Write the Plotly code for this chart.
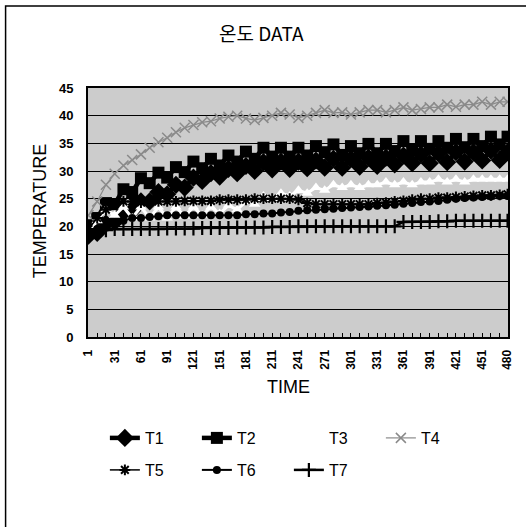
import plotly.graph_objects as go

time = [1, 11, 21, 31, 41, 51, 61, 71, 81, 91, 101, 111, 121, 131, 141, 151, 161, 171, 181, 191,
        201, 211, 221, 231, 241, 251, 261, 271, 281, 291, 301, 311, 321, 331, 341, 351, 361, 371,
        381, 391, 401, 411, 421, 431, 441, 451, 461, 471, 480]

t1 = [18.3, 18.8, 20.5, 20.8, 22.5, 22.8, 24.5, 24.5, 26.2, 25.8, 27.5, 27.0, 28.8, 28.2, 29.6,
      29.0, 30.4, 29.6, 30.9, 30.0, 31.6, 30.3, 31.7, 30.4, 31.7, 30.5, 31.9, 30.6, 32.2, 30.6,
      32.2, 30.8, 32.4, 30.9, 32.4, 31.2, 32.8, 31.4, 33.0, 31.4, 33.2, 31.6, 33.4, 31.7, 33.4,
      31.9, 33.7, 32.0, 33.4]
t2 = [20.2, 21.5, 24.2, 24.0, 26.7, 26.2, 28.7, 27.8, 29.7, 28.8, 30.7, 29.8, 31.7, 30.5, 32.2,
      31.0, 32.8, 31.7, 33.5, 32.2, 34.2, 32.6, 34.2, 32.6, 34.2, 32.8, 34.5, 33.4, 34.8, 32.9,
      34.5, 33.2, 34.9, 33.2, 34.9, 33.6, 35.4, 33.8, 35.4, 34.0, 35.4, 34.2, 35.8, 34.3, 35.8,
      34.5, 36.2, 34.8, 36.2]
t3 = [19.0, 21.0, 23.0, 22.0, 23.5, 21.5, 23.5, 21.5, 23.5, 21.5, 23.5, 21.8, 23.5, 22.0, 23.5,
      22.3, 23.8, 23.0, 24.5, 24.0, 25.5, 25.0, 26.0, 25.5, 26.5, 26.0, 27.0, 26.5, 27.5, 27.0,
      27.5, 27.0, 27.5, 27.5, 28.0, 27.5, 28.0, 27.5, 28.0, 28.0, 28.5, 28.0, 28.5, 28.0, 28.5,
      28.5, 28.5, 28.5, 28.5]
t4 = [22.0, 24.5, 27.5, 29.5, 31.0, 32.0, 33.0, 34.2, 35.2, 36.0, 37.0, 37.8, 38.3, 38.8, 39.0,
      39.5, 39.8, 40.0, 39.5, 39.2, 39.6, 40.0, 40.5, 40.2, 39.6, 40.0, 40.5, 41.0, 40.5, 40.6,
      40.2, 40.6, 41.0, 41.0, 40.6, 41.0, 41.5, 41.0, 41.2, 41.5, 41.5, 42.0, 41.6, 42.0, 42.0,
      42.5, 42.0, 42.5, 42.5]
t5 = [19.5, 21.5, 23.0, 24.0, 24.5, 24.5, 24.3, 24.5, 24.5, 24.5, 24.5, 24.6, 24.6, 24.6, 24.6,
      24.8, 24.8, 24.8, 24.8, 25.0, 25.0, 25.0, 25.0, 25.0, 24.8, 24.2, 24.0, 24.0, 24.0, 24.0,
      24.0, 24.0, 24.0, 24.2, 24.3, 24.5, 24.6, 24.8, 25.0, 25.0, 25.2, 25.2, 25.3, 25.4, 25.5,
      25.6, 25.6, 25.7, 25.8]
t6 = [19.0, 19.5, 20.0, 20.5, 21.0, 21.5, 21.5, 21.7, 21.8, 22.0, 22.0, 22.0, 22.0, 22.0, 22.0,
      22.0, 22.0, 22.0, 22.2, 22.2, 22.3, 22.3, 22.5, 22.6, 22.8, 22.9, 23.0, 23.1, 23.2, 23.3,
      23.4, 23.5, 23.6, 23.7, 23.8, 23.9, 24.1, 24.2, 24.4, 24.5, 24.6, 24.8, 25.0, 25.1, 25.2,
      25.3, 25.4, 25.5, 25.5]
t7 = [18.5, 19.0, 19.3, 19.5, 19.5, 19.5, 19.5, 19.5, 19.5, 19.6, 19.6, 19.6, 19.6, 19.7, 19.7,
      19.7, 19.7, 19.8, 19.8, 19.8, 19.8, 19.9, 19.9, 19.9, 20.0, 20.0, 20.0, 20.0, 20.0, 20.0,
      20.0, 20.0, 20.0, 20.0, 20.0, 20.0, 20.8, 20.8, 20.8, 20.8, 20.9, 20.9, 21.0, 21.0, 21.0,
      21.0, 21.0, 21.0, 21.0]

x_tick_vals = [1, 31, 61, 91, 121, 151, 181, 211, 241, 271, 301, 331, 361, 391, 421, 451, 480]
x_tick_text = [str(v) for v in x_tick_vals]
y_tick_vals = [0, 5, 10, 15, 20, 25, 30, 35, 40, 45]

FONT = "Liberation Sans, Arial, sans-serif"

series = [
    ("T1", t1, "black", 4.5, dict(symbol="diamond", size=14, color="black"), "legend"),
    ("T2", t2, "black", 4.5, dict(symbol="square", size=12, color="black"), "legend"),
    ("T3", t3, "white", 3, dict(symbol="triangle-up", size=10, color="white"), "legend"),
    ("T4", t4, "#8a8a8a", 1.2, dict(symbol="x-thin-open", size=10, color="#8a8a8a",
                                    line=dict(width=1.5, color="#8a8a8a")), "legend"),
    ("T5", t5, "black", 1.5, dict(symbol="asterisk-open", size=9, color="black",
                                  line=dict(width=2, color="black")), "legend2"),
    ("T6", t6, "black", 2, dict(symbol="circle", size=8, color="black"), "legend2"),
    ("T7", t7, "black", 2.5, dict(symbol="cross-thin-open", size=10, color="black",
                                  line=dict(width=2.2, color="black")), "legend2"),
]

fig = go.Figure()
for name, vals, col, w, mk, lg in series:
    fig.add_trace(go.Scatter(x=time, y=vals, name=name, mode="lines+markers",
                             line=dict(color=col, width=w), marker=mk, legend=lg))

L, R, T, B = 88, 15, 88, 190
W, H = 526, 527
pw, ph = W - L - R, H - T - B


def px(xp):
    return (xp - L) / pw


def py(yp):
    return (H - B - yp) / ph


legend_common = dict(orientation="h", xanchor="left", yanchor="middle",
                     font=dict(size=16, family=FONT), entrywidth=47, entrywidthmode="pixels",
                     bgcolor="rgba(0,0,0,0)", itemclick=False, tracegroupgap=0)

fig.update_layout(
    width=W, height=H,
    margin=dict(l=L, r=R, t=T, b=B),
    paper_bgcolor="white",
    plot_bgcolor="#cccccc",
    font=dict(family=FONT, color="black"),
    showlegend=True,
    legend=dict(x=px(105), y=py(438), **legend_common),
    legend2=dict(x=px(105), y=py(470), **legend_common),
    xaxis=dict(range=[0.5, 480.5], tickmode="array", tickvals=x_tick_vals, ticktext=x_tick_text,
               tickangle=-90, tickfont=dict(size=12, family=FONT, weight="bold"), ticks="inside",
               ticklen=4, tickcolor="black", tickwidth=1, showgrid=False, zeroline=False,
               showline=True, linecolor="black", linewidth=2, mirror=True,
               ticklabelstandoff=6,
               minor=dict(ticks="inside", ticklen=4, tick0=1, dtick=10, tickcolor="black",
                          showgrid=False)),
    yaxis=dict(range=[0, 45], tickmode="array", tickvals=y_tick_vals,
               tickfont=dict(size=13, family=FONT, weight="bold"), ticks="", showgrid=True,
               gridcolor="black", gridwidth=1.3, zeroline=False,
               showline=True, linecolor="black", linewidth=2, mirror=True,
               ticklabelstandoff=10),
    annotations=[
        dict(text="온도 DATA", x=px(263), y=py(33), xref="paper", yref="paper",
             xanchor="center", yanchor="middle", showarrow=False,
             font=dict(size=19, family="Noto Sans CJK KR, " + FONT)),
        dict(text="TIME", x=px(290), y=py(387), xref="paper", yref="paper",
             xanchor="center", yanchor="middle", showarrow=False,
             font=dict(size=18, family=FONT)),
        dict(text="TEMPERATURE", x=px(40), y=py(211), xref="paper", yref="paper",
             xanchor="center", yanchor="middle", showarrow=False,
             textangle=-90, font=dict(size=18, family=FONT)),
    ],
    shapes=[
        dict(type="path", xref="paper", yref="paper",
             path=f"M {px(5)} {py(530)} L {px(5)} {py(6)} L {px(530)} {py(6)}",
             line=dict(color="black", width=1.5)),
    ],
)

fig.write_html("out.html")
